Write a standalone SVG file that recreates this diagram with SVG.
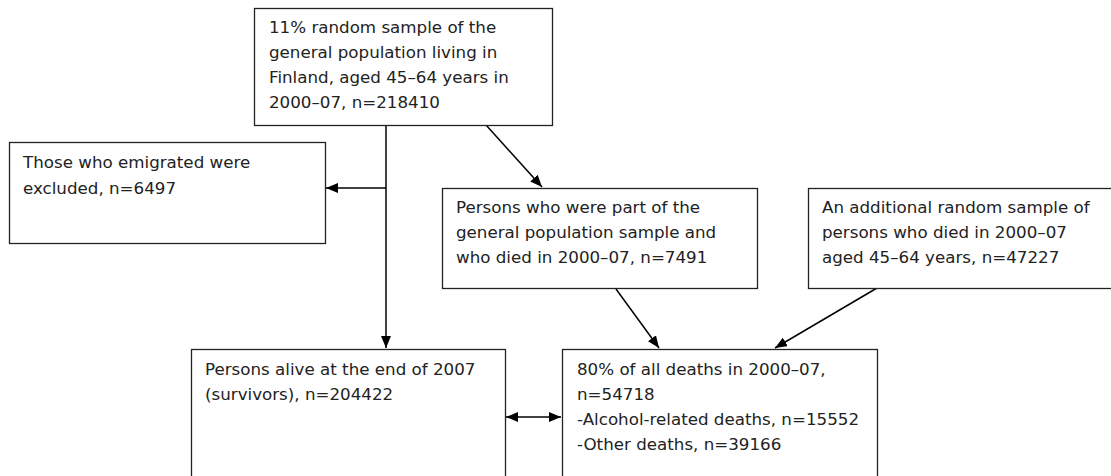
<svg xmlns="http://www.w3.org/2000/svg" width="1111" height="476" viewBox="0 0 1111 476">
<style>
.box{fill:#fff;stroke:#222;stroke-width:1.3}
.t{font-family:"DejaVu Sans",Verdana,sans-serif;font-size:16.7px;fill:#222}
.c{stroke:#000;stroke-width:1.5;fill:none}
</style>
<defs>
<marker id="ah" viewBox="0 0 12 10" refX="12" refY="5" markerWidth="12" markerHeight="10" markerUnits="userSpaceOnUse" orient="auto-start-reverse">
<path d="M0,0 L12,5 L0,10 z" fill="#000"/>
</marker>
</defs>
<rect width="1111" height="476" fill="#fff"/>
<g id="connectors">
<line class="c" x1="386" y1="125" x2="386" y2="348" marker-end="url(#ah)"/>
<line class="c" x1="386" y1="188" x2="326" y2="188" marker-end="url(#ah)"/>
<line class="c" x1="486" y1="125" x2="542" y2="187" marker-end="url(#ah)"/>
<line class="c" x1="616" y1="289" x2="659" y2="348" marker-end="url(#ah)"/>
<line class="c" x1="877" y1="288" x2="775" y2="348" marker-end="url(#ah)"/>
<line class="c" x1="506" y1="417" x2="561" y2="417" marker-start="url(#ah)" marker-end="url(#ah)"/>
</g>
<g id="n-top">
<rect class="box" x="254.5" y="8.5" width="298" height="117"/>
<text class="t" x="269" y="33">11% random sample of the</text>
<text class="t" x="269" y="58">general population living in</text>
<text class="t" x="269" y="83">Finland, aged 45–64 years in</text>
<text class="t" x="269" y="108">2000–07, n=218410</text>
</g>
<g id="n-emig">
<rect class="box" x="9.5" y="142.5" width="316" height="101"/>
<text class="t" x="23" y="168">Those who emigrated were</text>
<text class="t" x="23" y="194">excluded, n=6497</text>
</g>
<g id="n-died">
<rect class="box" x="442.5" y="188.5" width="315" height="100"/>
<text class="t" x="456" y="213">Persons who were part of the</text>
<text class="t" x="456" y="238">general population sample and</text>
<text class="t" x="456" y="263">who died in 2000–07, n=7491</text>
</g>
<g id="n-add">
<rect class="box" x="808.5" y="188.5" width="320" height="100"/>
<text class="t" x="822" y="213">An additional random sample of</text>
<text class="t" x="822" y="238">persons who died in 2000–07</text>
<text class="t" x="822" y="263">aged 45–64 years, n=47227</text>
</g>
<g id="n-surv">
<rect class="box" x="191.5" y="349.5" width="314" height="140"/>
<text class="t" x="205" y="375">Persons alive at the end of 2007</text>
<text class="t" x="205" y="400">(survivors), n=204422</text>
</g>
<g id="n-deaths">
<rect class="box" x="562.5" y="349.5" width="315" height="140"/>
<text class="t" x="577" y="375">80% of all deaths in 2000–07,</text>
<text class="t" x="577" y="400">n=54718</text>
<text class="t" x="577" y="425">-Alcohol-related deaths, n=15552</text>
<text class="t" x="577" y="450">-Other deaths, n=39166</text>
</g>
</svg>
